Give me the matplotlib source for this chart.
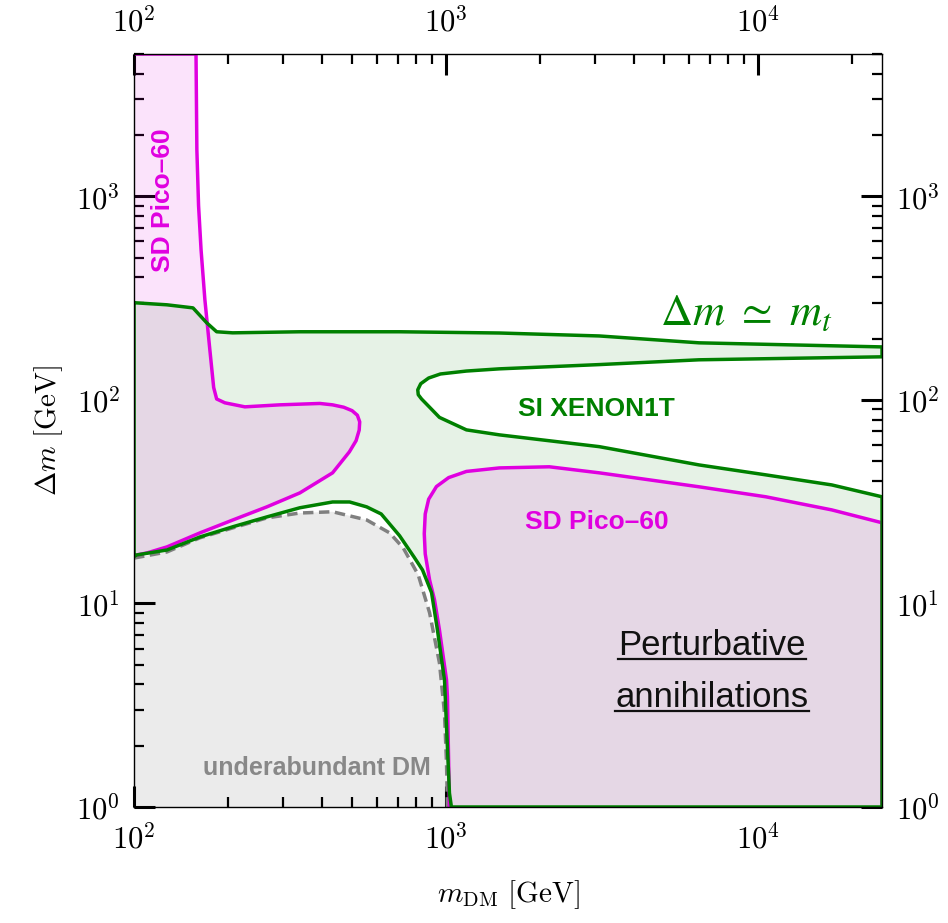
import numpy as np
import matplotlib.pyplot as plt
from matplotlib.ticker import LogLocator, FuncFormatter, NullFormatter
from matplotlib.lines import Line2D

plt.rcParams['mathtext.fontset'] = 'cm'

# underabundant DM boundary (dashed)
m_under = [100, 127.5, 162.6, 207.4, 266.5, 340, 433, 557, 660, 730, 815, 886, 953, 989, 1004, 1011]
dm_under = [16.7, 17.9, 21.0, 23.5, 26.3, 27.8, 28.2, 25.7, 22.2, 18.7, 13.8, 9.0, 5.1, 2.9, 1.65, 1.0]

# SI XENON1T exclusion boundary
m_xe_up = [100, 127.5, 154.5, 171, 184, 207, 340, 710, 1483, 3100, 6475, 25000]
dm_xe_up = [300, 293, 283, 239, 216, 213.4, 216, 216, 213, 206, 190.6, 182]
m_tongue = [25000, 6475, 3100, 1483, 1163, 960, 880, 830, 812, 815, 835, 880, 953, 1163, 1483, 3100, 6475, 10607, 17250, 25000]
dm_tongue = [162.7, 157.3, 149, 142, 138.5, 134, 128, 120, 112, 106, 101, 93, 82, 71.2, 67.3, 58.9, 47.9, 42.8, 38.2, 33.4]
m_xe_low = [100, 102, 127.5, 162.6, 207.4, 266.5, 340, 433, 491, 557, 620, 710, 790, 841, 899, 939, 989, 1026, 1041]
dm_xe_low = [17.0, 17.3, 18.3, 21.2, 23.8, 26.6, 29.5, 31.5, 31.5, 29.8, 27.5, 21.5, 16.9, 14.6, 11.3, 7.4, 4.2, 1.17, 1.0]

# SD Pico-60 exclusion boundaries
m_pico_l = [100, 158, 159, 161, 164, 168.7, 175, 180, 184, 195.5, 226.6, 293, 394, 433, 470, 500, 520, 529, 527, 515, 490, 433, 340, 266.5, 207.4, 162.6, 127.5, 110, 100]
dm_pico_l = [5000, 5000, 1693, 900, 546, 310, 176, 115, 101, 96.7, 92.4, 94.5, 96, 94.5, 92, 88.5, 84, 78, 71, 63, 55.5, 43.8, 34.9, 29.8, 25.7, 22.2, 18.95, 17.7, 17.2]
m_pico_r = [1026, 1011, 1004, 953, 919, 886, 858, 852, 858, 880, 932, 1020, 1163, 1483, 2144, 3099, 6475, 10607, 17250, 25000, 25000]
dm_pico_r = [1.0, 3.47, 4.21, 7.41, 10.4, 13.05, 17.5, 22, 27.5, 32.5, 37.5, 41.5, 44.5, 46.3, 46.9, 43.8, 37.4, 33.4, 28.8, 24.9, 1.0]

green = '#008000'
magenta = '#e000e0'

fig = plt.figure(figsize=(9.48, 9.23), dpi=100)
ax = fig.add_axes([0.1414, 0.1257, 0.789, 0.8158])
ax.set_xscale('log')
ax.set_yscale('log')
ax.set_xlim(100, 25000)
ax.set_ylim(1, 5000)

# underabundant region
ux = [100] + m_under + [100]
uy = [dm_under[0]] + dm_under + [1]
ax.fill(ux, uy, color='#ebebeb', lw=0, zorder=1)
ax.plot(m_under, dm_under, color='#808080', lw=2.5, ls=(0, (3, 1.6)), zorder=4)

# XENON1T region
gx = m_xe_up + m_tongue + [25000, 1041] + m_xe_low[::-1] + [100]
gy = dm_xe_up + dm_tongue + [1, 1] + dm_xe_low[::-1] + [300]
ax.fill(gx, gy, color='#e6f2e6', lw=0, zorder=2)

# Pico-60 regions
for px, py in [(m_pico_l, dm_pico_l), (m_pico_r, dm_pico_r)]:
    ax.fill(px, py, color=magenta, alpha=0.11, lw=0, zorder=3)
    ax.plot(px, py, color=magenta, lw=2.5, zorder=5)

ax.plot(gx, gy, color=green, lw=2.5, zorder=6)

# ticks
ax.tick_params(which='both', direction='in', top=True, right=True,
               labeltop=True, labelright=True, labelsize=22, zorder=10)
ax.tick_params(which='major', length=15, width=2.2)
ax.tick_params(which='minor', length=7, width=1.6)
ax.tick_params(axis='x', which='major', pad=12)
ax.tick_params(axis='y', which='major', pad=10)
ax.xaxis.set_major_locator(LogLocator(base=10))
ax.yaxis.set_major_locator(LogLocator(base=10))
ax.xaxis.set_minor_locator(LogLocator(base=10, subs=np.arange(2, 10)))
ax.yaxis.set_minor_locator(LogLocator(base=10, subs=np.arange(2, 10)))
fmt = FuncFormatter(lambda v, p: r'$10^{%d}$' % round(np.log10(v)))
ax.xaxis.set_major_formatter(fmt)
ax.yaxis.set_major_formatter(fmt)
ax.xaxis.set_minor_formatter(NullFormatter())
ax.yaxis.set_minor_formatter(NullFormatter())
for s in ax.spines.values():
    s.set_linewidth(1.0)
    s.set_zorder(8)

ax.set_xlabel(r'$m_{\mathrm{DM}}\ [\mathrm{GeV}]$', fontsize=21)
ax.set_ylabel(r'$\Delta m\ [\mathrm{GeV}]$', fontsize=21)
ax.xaxis.set_label_coords(0.5, -0.094)
ax.yaxis.set_label_coords(-0.092, 0.5)

# annotations
bold = dict(family='Liberation Sans', fontweight='bold', fontsize=19)
ax.text(123.8, 961, 'SD Pico\u201360', color=magenta, rotation=90,
        ha='center', va='center', zorder=7, **bold)
ax.text(3031, 89.8, 'SI XENON1T', color=green, ha='center', va='center', zorder=7, **bold)
ax.text(3053, 25.0, 'SD Pico\u201360', color=magenta, ha='center', va='center', zorder=7, **bold)
ax.text(386, 1.56, 'underabundant DM', color='#888888', ha='center', va='center',
        zorder=7, family='Liberation Sans', fontweight='bold', fontsize=18)
ax.text(9155, 233.7, r'$\Delta m\ \simeq\ m_t$', color=green, ha='center', va='baseline',
        fontsize=32, math_fontfamily='stix', zorder=7)

words = []
for txt, yy in [('Perturbative', 5.58), ('annihilations', 3.10)]:
    t = ax.text(7126, yy, txt, ha='center', va='baseline', fontsize=25,
                family='Liberation Sans', color='#111111', zorder=7)
    words.append((t, yy))

fig.canvas.draw()
inv = fig.transFigure.inverted()
for t, yy in words:
    bb = t.get_window_extent()
    base = ax.transData.transform((7126, yy))[1] - 4
    (x0, y0) = inv.transform((bb.x0, base))
    (x1, _) = inv.transform((bb.x1, base))
    fig.add_artist(Line2D([x0, x1], [y0, y0], color='#111111', lw=1.6))

fig.savefig('out.png', dpi=100)
